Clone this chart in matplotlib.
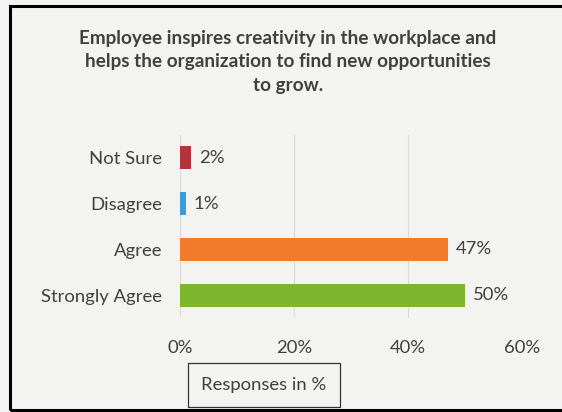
import matplotlib.pyplot as plt
from matplotlib.patches import Rectangle

# Datos del grafico (de arriba hacia abajo)
categorias = ['Not Sure', 'Disagree', 'Agree', 'Strongly Agree']
valores = [2, 1, 47, 50]
colores = ['#b3343a', '#3b9bdb', '#f27a2b', '#7db52f']
ticks_x = [0, 20, 40, 60]

titulo = ('Employee inspires creativity in the workplace and\n'
          'helps the organization to find new opportunities\n'
          'to grow.')
etiqueta_x = 'Responses in %'

plt.rcParams['font.family'] = ['Lato', 'DejaVu Sans']
color_texto = '#404040'
tam = 13.3

fig = plt.figure(figsize=(5.62, 4.12), dpi=100, facecolor='#f3f3f1')
ax = fig.add_axes([180/562, 1 - 318/412, (522 - 180)/562, (318 - 135)/412])
ax.set_facecolor('none')

posiciones = range(len(categorias))
ax.barh(posiciones, valores, height=0.5, color=colores)

# Etiquetas de valor
for i, v in enumerate(valores):
    ax.text(v + 1.4, i, f'{v}%', va='center', ha='left',
            fontsize=tam, color=color_texto)

ax.set_xlim(0, 60)
ax.set_ylim(3.5, -0.5)
ax.set_yticks(list(posiciones))
ax.set_yticklabels(categorias, fontsize=tam, color=color_texto)
ax.set_xticks(ticks_x)
ax.set_xticklabels([f'{t}%' for t in ticks_x], fontsize=tam, color=color_texto)
ax.tick_params(axis='y', length=0, pad=13)
ax.tick_params(axis='x', length=0, pad=16)
ax.grid(axis='x', color='#dadada', linewidth=0.8)
ax.set_axisbelow(True)
for s in ax.spines.values():
    s.set_visible(False)

# Titulo
fig.text(288/562, 1 - 62/412, titulo, ha='center', va='center',
         fontsize=13.6, fontweight='bold', color=color_texto, linespacing=1.45)

# Titulo del eje dentro de un recuadro
fig.text(264/562, 1 - 385/412, etiqueta_x, ha='center', va='center',
         fontsize=tam, color=color_texto,
         bbox=dict(boxstyle='square,pad=0.75', facecolor='none',
                   edgecolor='#333333', linewidth=0.9))

# Marco exterior
fig.patches.append(Rectangle((9.5/562, 1 - 410/412), 1.2, (410 - 6)/412,
                             transform=fig.transFigure, fill=False,
                             edgecolor='black', linewidth=2.2))

fig.savefig('out.png', dpi=100, facecolor=fig.get_facecolor())
